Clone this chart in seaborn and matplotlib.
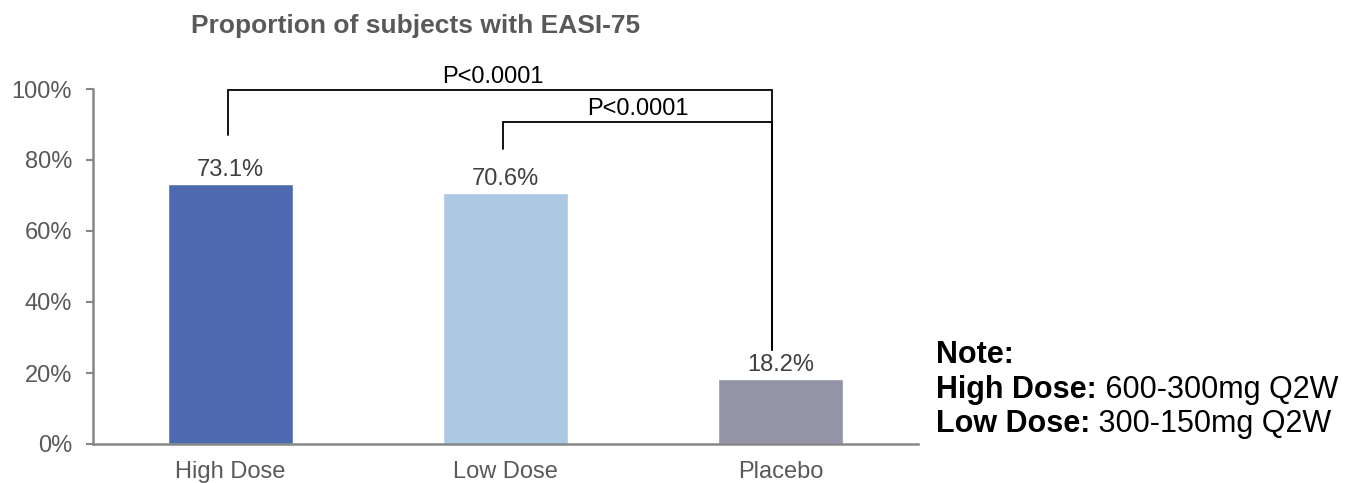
import matplotlib
matplotlib.use("Agg")
import matplotlib.pyplot as plt
import seaborn as sns
import pandas as pd

# Data
groups = ["High Dose", "Low Dose", "Placebo"]
easi75_pct = [73.1, 70.6, 18.2]
bar_colors = ["#4D69B0", "#ADC8E3", "#9395A7"]
y_ticks = [0, 20, 40, 60, 80, 100]
comparisons = [("High Dose", "Placebo", "P<0.0001"), ("Low Dose", "Placebo", "P<0.0001")]
note_lines = [("High Dose:", " 600-300mg Q2W"), ("Low Dose:", " 300-150mg Q2W")]

sns.set_theme(style="white")
plt.rcParams["font.family"] = ["Liberation Sans", "DejaVu Sans"]

df = pd.DataFrame({"group": groups, "pct": easi75_pct})

fig = plt.figure(figsize=(13.58, 4.83), dpi=100)
ax = fig.add_axes([93 / 1358, 1 - 444 / 483, 825 / 1358, 355 / 483])

sns.barplot(data=df, x="group", y="pct", hue="group", palette=bar_colors,
            width=0.455, legend=False, ax=ax, saturation=1)

ax.set_xlim(-0.5, 2.5)
ax.set_ylim(0, 100)
ax.set_yticks(y_ticks)
ax.set_yticklabels([f"{t}%" for t in y_ticks])
ax.set_xlabel("")
ax.set_ylabel("")

axis_gray = "#868686"
text_gray = "#595959"
for side in ["top", "right"]:
    ax.spines[side].set_visible(False)
for side in ["left", "bottom"]:
    ax.spines[side].set_color(axis_gray)
    ax.spines[side].set_linewidth(1.8)
ax.tick_params(axis="y", left=True, length=5, width=1.5, color=axis_gray,
               labelsize=17, labelcolor=text_gray, pad=10)
ax.tick_params(axis="x", bottom=False, labelsize=17, labelcolor=text_gray, pad=6)

# Value labels above each bar
for i, v in enumerate(easi75_pct):
    ax.annotate(f"{v}%", xy=(i, v), xytext=(0, 2.5), textcoords="offset points",
                ha="center", va="bottom", fontsize=17, color="#404040")

# Significance brackets
pos = {g: i for i, g in enumerate(groups)}
bracket_specs = [(99.7, 87.0, -0.025), (90.8, 83.0, 0.0)]
right_drop = 26.5
for (g1, g2, label), (top, left_end, shift) in zip(comparisons, bracket_specs):
    x1 = pos[g1] - 0.01
    x2 = pos[g2] - 0.03
    ax.plot([x1, x1, x2, x2], [left_end, top, top, right_drop], color="black",
            lw=1.3, clip_on=False, solid_joinstyle="miter")
    ax.text((x1 + x2) / 2 + shift, top + 0.6, label, ha="center", va="bottom",
            fontsize=17, color="black")

# Title
fig.text(416 / 1358, 1 - 26 / 483, "Proportion of subjects with EASI-75",
         ha="center", va="center", fontsize=19, fontweight="bold", color=text_gray)

# Dose note
note_x = 936 / 1358
note_size = 22
fig.text(note_x, 1 - 363 / 483, "Note:", ha="left", va="baseline",
         fontsize=note_size, fontweight="bold", color="black")
bold_texts = []
for k, (bold_part, rest) in enumerate(note_lines):
    yb = 1 - (398 + 34 * k) / 483
    t = fig.text(note_x, yb, bold_part, ha="left", va="baseline",
                 fontsize=note_size, fontweight="bold", color="black")
    bold_texts.append((t, rest, yb))

# Regular-weight parts follow their bold prefixes
fig.canvas.draw()
renderer = fig.canvas.get_renderer()
for t, rest, yb in bold_texts:
    bb = t.get_window_extent(renderer)
    fig.text(bb.x1 / fig.bbox.width, yb, rest, ha="left", va="baseline",
             fontsize=note_size, color="black")

fig.savefig("out.png", dpi=100)
